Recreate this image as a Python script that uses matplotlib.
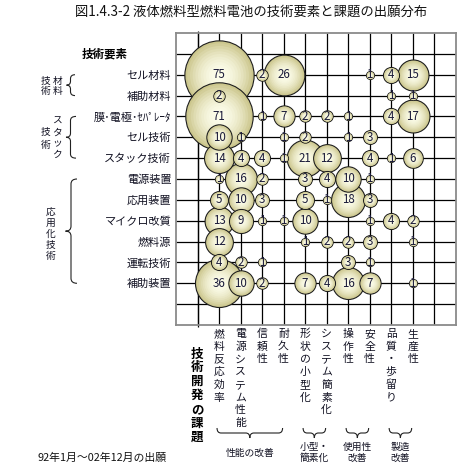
import numpy as np
import matplotlib
matplotlib.use("Agg")
import matplotlib.pyplot as plt
from matplotlib.path import Path
from matplotlib.patches import PathPatch
from matplotlib.colors import to_rgb

plt.rcParams['font.family'] = ['Noto Sans CJK JP', 'DejaVu Sans']

title = "図1.4.3-2 液体燃料型燃料電池の技術要素と課題の出願分布"
note = "92年1月～02年12月の出願"

tech = ["セル材料", "補助材料", "膜･電極･ｾﾊﾟﾚｰﾀ", "セル技術", "スタック技術",
        "電源装置", "応用装置", "マイクロ改質", "燃料源", "運転技術", "補助装置"]
issues = ["燃料反応効率", "電源システム性能", "信頼性", "耐久性", "形状の小型化",
          "システム簡素化", "操作性", "安全性", "品質・歩留り", "生産性"]

# number of applications: rows = tech, cols = issues (0 = none)
counts = [
    [75, 0, 2, 26, 0, 0, 0, 1, 4, 15],
    [2, 0, 0, 0, 0, 0, 0, 0, 1, 1],
    [71, 0, 1, 7, 2, 2, 1, 0, 4, 17],
    [10, 1, 0, 1, 2, 0, 1, 3, 0, 0],
    [14, 4, 4, 1, 21, 12, 0, 4, 1, 6],
    [1, 16, 2, 0, 3, 4, 10, 1, 0, 0],
    [5, 10, 3, 0, 5, 1, 18, 3, 0, 0],
    [13, 9, 1, 1, 10, 0, 0, 1, 4, 2],
    [12, 0, 0, 0, 1, 2, 2, 3, 0, 1],
    [4, 2, 1, 0, 0, 0, 3, 1, 0, 0],
    [36, 10, 2, 0, 7, 4, 16, 7, 0, 1],
]

# (label, first row, last row)
tech_groups = [("材料技術", 0, 1), ("スタック技術", 2, 4), ("応用化技術", 5, 10)]
# (label lines, first col, last col)
issue_groups = [(["性能の改善"], 0, 3), (["小型・", "簡素化"], 4, 5),
                (["使用性", "改善"], 6, 7), (["製造", "改善"], 8, 9)]

W, H = 467, 474
fig = plt.figure(figsize=(W / 100, H / 100), dpi=100)
ax = fig.add_axes([176 / W, 1 - 325 / H, 279.7 / W, 292 / H])
ax.set_xlim(0, len(issues) + 3)
ax.set_ylim(len(tech) + 3, 0)
xs = np.arange(len(issues)) + 2
ys = np.arange(len(tech)) + 2

ax.vlines(np.arange(1, len(issues) + 3), 0, len(tech) + 3, color='black', lw=0.9, zorder=1)
ax.vlines([1], -0.1, len(tech) + 3.1, color='black', lw=0.9, zorder=1, clip_on=False)
ax.hlines(np.arange(1, len(tech) + 3), 0, len(issues) + 3, color='black', lw=0.9, zorder=1)
for sp in ax.spines.values():
    sp.set_color('#8a8a8a')
    sp.set_linewidth(1.3)
ax.set_xticks([])
ax.set_yticks(ys, tech)
ax.tick_params(axis='y', length=0, pad=3.5, labelsize=8, labelcolor='#111122')

# bubbles, biggest first so small ones stay on top
edge_c = np.array(to_rgb("#cbc68c"))
center_c = np.array(to_rgb("#fdfdeb"))
R1 = 4.0  # px radius for a count of 1
cells = [(counts[i][j], i, j) for i in range(len(tech)) for j in range(len(issues)) if counts[i][j] > 0]
cells.sort(key=lambda c: -c[0])
z = 3
for v, i, j in cells:
    r = R1 * np.sqrt(v) * 0.72
    ax.scatter(xs[j], ys[i], s=(2 * r) ** 2, color=edge_c, edgecolors='#1e1e1e',
               linewidths=0.8, zorder=z)
    z += 1
    for f in np.linspace(0.93, 0.08, 12):
        c = center_c + (edge_c - center_c) * f ** 2
        ax.scatter(xs[j], ys[i], s=(2 * r * f) ** 2, color=c, linewidths=0, zorder=z)
        z += 1
    ax.text(xs[j], ys[i], str(v), ha='center', va='center', fontsize=8.3,
            color='#1b1b3a', zorder=z)
    z += 1

# overlay in figure pixels for labels and braces
ov = fig.add_axes([0, 0, 1, 1])
ov.set_xlim(0, W)
ov.set_ylim(H, 0)
ov.axis('off')
ov.patch.set_alpha(0)


def to_px(x, y):
    px, py = ax.transData.transform((x, y))
    return px, H - py


def vtext(x, y0, s, step, **kw):
    for k, ch in enumerate(s):
        ov.text(x, y0 + k * step, ch, ha='center', va='center', **kw)


def vbrace(y0, y1, xe, xm, xt, d=4):
    ym = (y0 + y1) / 2
    verts = [(xe, y0), (xm, y0), (xm, y0 + d), (xm, ym - d), (xm, ym), (xt, ym),
             (xm, ym), (xm, ym + d), (xm, y1 - d), (xm, y1), (xe, y1)]
    codes = [Path.MOVETO, Path.CURVE3, Path.CURVE3, Path.LINETO, Path.CURVE3, Path.CURVE3,
             Path.CURVE3, Path.CURVE3, Path.LINETO, Path.CURVE3, Path.CURVE3]
    ov.add_patch(PathPatch(Path(verts, codes), fc='none', ec='#222222', lw=0.8))


def hbrace(x0, x1, ye, ym_, yt, d=4):
    xm = (x0 + x1) / 2
    verts = [(x0, ye), (x0, ym_), (x0 + d, ym_), (xm - d, ym_), (xm, ym_), (xm, yt),
             (xm, ym_), (xm + d, ym_), (x1 - d, ym_), (x1, ym_), (x1, ye)]
    codes = [Path.MOVETO, Path.CURVE3, Path.CURVE3, Path.LINETO, Path.CURVE3, Path.CURVE3,
             Path.CURVE3, Path.CURVE3, Path.LINETO, Path.CURVE3, Path.CURVE3]
    ov.add_patch(PathPatch(Path(verts, codes), fc='none', ec='#222222', lw=0.8))


ov.text(251, 12, title, ha='center', va='center', fontsize=9.6, color='#111111')
ov.text(105, 54, "技術要素", ha='center', va='center', fontsize=8.3, fontweight='bold')
ov.text(37, 458, note, ha='left', va='center', fontsize=7.8, color='#111111')

# column labels (vertical)
for j, lab in enumerate(issues):
    px, _ = to_px(xs[j], 0)
    vtext(px, 334, lab, 12.7, fontsize=7.8, color='#111122')
vtext(197, 354, "技術開発の課題", 13.8, fontsize=9, fontweight='bold')

# left groups
grp_style = dict(fontsize=7, color='#111122')
_, a0 = to_px(0, ys[0]); _, a1 = to_px(0, ys[1])
vbrace(a0, a1, 75, 70.5, 66.5)
vtext(57.5, 81.3, "材料", 10, **grp_style)
vtext(45.3, 81.3, "技術", 10, **grp_style)
_, b0 = to_px(0, ys[2]); _, b1 = to_px(0, ys[4])
vbrace(b0, b1, 76, 70.5, 66)
vtext(56.7, 121, "スタック", 11.3, **grp_style)
vtext(45.3, 132, "技術", 13, **grp_style)
_, c0 = to_px(0, ys[5]); _, c1 = to_px(0, ys[10])
vbrace(c0, c1, 77, 71, 65.5, d=5)
vtext(50.5, 211.7, "応用化技術", 11, **grp_style)

# bottom groups
for lines, j0, j1 in issue_groups:
    x0, _ = to_px(xs[j0], 0)
    x1, _ = to_px(xs[j1], 0)
    x0 -= 2
    x1 -= 1
    hbrace(x0, x1, 428, 433, 438)
    cx = (x0 + x1) / 2
    if len(lines) == 1:
        ov.text(cx, 453, lines[0], ha='center', va='center', **grp_style)
    else:
        ov.text(cx, 446.7, lines[0], ha='center', va='center', **grp_style)
        ov.text(cx, 457.7, lines[1], ha='center', va='center', **grp_style)

fig.savefig("out.png", dpi=100)
